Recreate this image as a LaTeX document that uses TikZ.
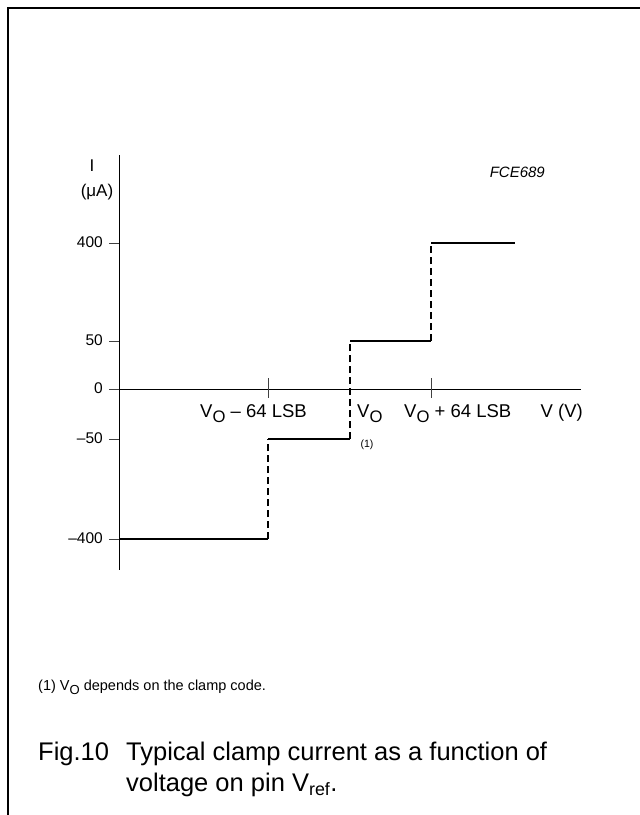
\documentclass[tikz,border=0pt]{standalone}
\usepackage{fontspec}
\usepackage{graphicx}
\setmainfont{Liberation Sans}
\usetikzlibrary{positioning}
\newcommand{\lowsub}[1]{\raisebox{-0.3em}{\scalebox{0.9}{#1}}}

\begin{document}
\begin{tikzpicture}[x=1pt, y=-1pt, axis/.style = {line width=1pt}, tick/.style = {line width=0.8pt, black!75}, level/.style = {line width=2.4pt}, jump/.style = {line width=2.4pt, dash pattern=on 7pt off 4pt}, lbl/.style = {font=\fontsize{15.5}{17}\selectfont, inner sep=0pt}, xlbl/.style = {font=\fontsize{18.5}{20}\selectfont, inner sep=0pt, anchor=base west}, small/.style = {font=\fontsize{14.5}{16}\selectfont, inner sep=0pt}, caption/.style = {font=\fontsize{25.5}{28}\selectfont, inner sep=0pt, anchor=base west}]
	\useasboundingbox (0,0) rectangle (640,815);
	% frame
	\draw[line width=1.5pt] (8,815) -- (8,8) -- (640,8);
	% axes
	\coordinate (ytop) at (119,155);
	\coordinate (ybot) at (119,570);
	\coordinate (xleft) at (110,389);
	\coordinate (xright) at (581,389);
	\draw[axis] (ytop) -- (ybot);
	\draw[axis] (xleft) -- (xright);
	\node[font=\fontsize{17}{19}\selectfont, inner sep=0pt, anchor=base] (iname) at (92,171) {I};
	\node[font=\fontsize{17}{19}\selectfont, inner sep=0pt, anchor=base] (iunit) at (97,196) {(μA)};
	\node[font=\fontsize{15}{17}\selectfont\itshape, inner sep=0pt, anchor=base east] (code) at (545,177) {FCE689};
	% y ticks
	\foreach \name/\val/\y in {ya/400/243, yb/50/341, yc/0/389, yd/–50/439, ye/–400/539} {
		\draw[tick] (109,\y) -- (119,\y);
		\node[lbl, anchor=east] (\name) at (103,\y-1) {\val};
	}
	% x ticks
	\foreach \x in {268,431} \draw[tick] (\x,378) -- (\x,398);
	\node[xlbl] (vminus) at (200,417) {V\lowsub{O} – 64 LSB};
	\node[xlbl] (vzero) at (357,417) {V\lowsub{O}};
	\node[xlbl] (vplus) at (404,417) {V\lowsub{O} + 64 LSB};
	\node[xlbl, anchor=base east] (vunit) at (583,417) {V (V)};
	\node[font=\fontsize{10.5}{12}\selectfont, inner sep=0pt, anchor=base] (note) at (367,447) {(1)};
	% clamp current steps
	\coordinate (s0) at (119,539);
	\coordinate (s1) at (268,539);
	\coordinate (s2) at (268,439);
	\coordinate (s3) at (350,439);
	\coordinate (s4) at (350,341);
	\coordinate (s5) at (431,341);
	\coordinate (s6) at (431,243);
	\coordinate (s7) at (515,243);
	\draw[level] (s0) -- (s1);
	\draw[jump] (s1) -- (s2);
	\draw[level] (s2) -- (s3);
	\draw[jump] (s3) -- (s4);
	\draw[level] (s4) -- (s5);
	\draw[jump] (s5) -- (s6);
	\draw[level] (s6) -- (s7);
	% footnote and caption
	\node[small, anchor=base west] (foot) at (38,690) {(1) V\lowsub{O} depends on the clamp code.};
	\node[caption] (fig) at (38,760) {Fig.10};
	\node[caption] (cap1) at (126,760) {Typical clamp current as a function of};
	\node[caption] (cap2) at (126,791) {voltage on pin V\textsubscript{ref}.};
\end{tikzpicture}
\end{document}
